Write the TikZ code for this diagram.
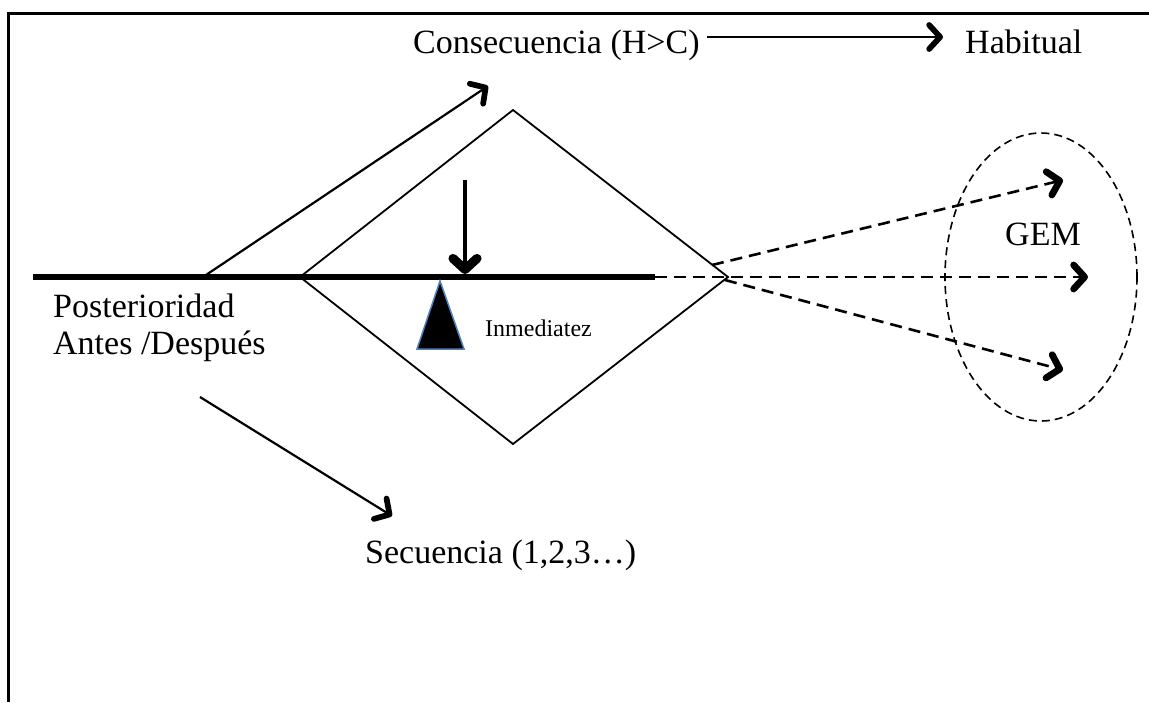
\documentclass[tikz,border=0pt]{standalone}
\usepackage{fontspec}
\setmainfont{Liberation Serif}
\usetikzlibrary{arrows.meta,shapes.geometric}
\definecolor{edgeblue}{RGB}{79,129,189}
\begin{document}
\begin{tikzpicture}[x=1pt,y=-1pt,
  lbl/.style={font=\fontsize{34}{38}\selectfont, inner sep=0pt, anchor=base west},
  smalllbl/.style={font=\fontsize{24}{28}\selectfont, inner sep=0pt, anchor=base west},
  barb/.style={-{Straight Barb[length=11pt,width=24pt,line width=0pt 2.6,round]}},
  solidarrow/.style={line width=2.2pt, barb},
  dasharrow/.style={line width=2.6pt, dash pattern=on 12pt off 7pt, barb},
  axis/.style={line width=5.5pt},
  rhombus/.style={line width=1.8pt, line join=miter},
]
\useasboundingbox (0,0) rectangle (1149,702);

% open frame: top and left sides
\draw[line width=3pt] (8,702) -- (8,13) -- (1149,13);

% key points
\coordinate (axisL) at (33,277);
\coordinate (axisR) at (655,277);
\coordinate (dT) at (513,110);
\coordinate (dL) at (300,277);
\coordinate (dR) at (728,277);
\coordinate (dB) at (513,444);

% rhombus
\draw[rhombus] (dT) -- (dR) -- (dB) -- (dL) -- cycle;

% time axis
\draw[axis] (axisL) -- (axisR);

% texts
\node[lbl] (cons) at (413,53) {Consecuencia (H>C)};
\node[lbl] (hab) at (965,53) {Habitual};
\node[lbl] (post) at (53,317) {Posterioridad};
\node[lbl] (antes) at (53,354) {Antes /Después};
\node[lbl] (sec) at (365,563) {Secuencia (1,2,3…)};
\node[smalllbl] (inm) at (485,336) {Inmediatez};
\node[lbl, anchor=base] (gem) at (1043,245) {GEM};

% solid arrows
\coordinate (c1) at (707,37);
\coordinate (c2) at (943,37);
\draw[solidarrow] (c1) -- (c2);

\coordinate (u0) at (203,277);
\coordinate (u1) at (488,86);
\draw[solidarrow] (u0) -- (u1);

\coordinate (v0) at (465,180);
\coordinate (v1) at (465,274);
\draw[solidarrow, line width=3.5pt] (v0) -- (v1);

\coordinate (s0) at (200,397);
\coordinate (s1) at (392,516);
\draw[solidarrow] (s0) -- (s1);

% fulcrum
\coordinate (fA) at (440,281);
\coordinate (fL) at (417,349);
\coordinate (fR) at (464,349);
\filldraw[fill=black, draw=edgeblue, line width=1.5pt, line join=miter] (fA) -- (fR) -- (fL) -- cycle;

% dashed projections
\coordinate (gU) at (1063,180);
\coordinate (gM) at (1088,277);
\coordinate (gD) at (1063,370);
\coordinate (pU) at (712,265);
\coordinate (pD) at (725,280);
\draw[dasharrow] (axisR) -- (gM);
\draw[dasharrow] (pU) -- (gU);
\draw[dasharrow] (pD) -- (gD);

% dashed ellipse
\node[draw, ellipse, line width=1.6pt, dash pattern=on 8pt off 5pt, minimum width=192pt, minimum height=288pt, inner sep=0pt] (ell) at (1041,277) {};
\end{tikzpicture}
\end{document}
